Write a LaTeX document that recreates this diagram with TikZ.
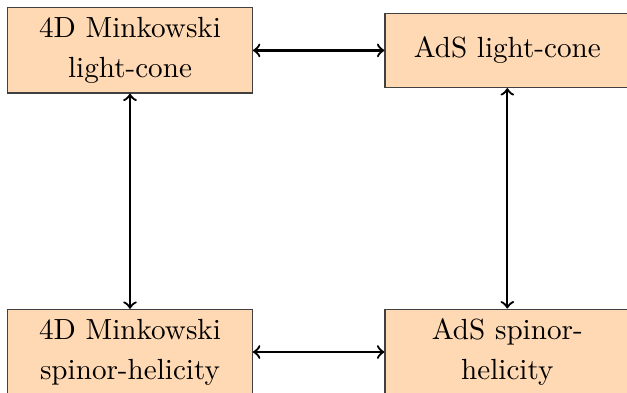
\documentclass[tikz,border=0pt]{standalone}
\usepackage{tikz}
\definecolor{peach}{RGB}{255,217,179}
\tikzset{
  box/.style={draw=black!75, fill=peach, text width=79pt, align=center,
    inner xsep=3.33pt, inner ysep=3.33pt, minimum height=26pt,
    font=\fontsize{10.2}{14}\selectfont},
  link/.style={thick, <->}
}
\begin{document}
\begin{tikzpicture}[x=0.35pt,y=-0.35pt]
\useasboundingbox (0,0) rectangle (627,392);
\node[box] (tl) at (130,50.4) {4D Minkowski light-cone};
\node[box] (tr) at (507.3,50.4) {AdS light-cone};
\node[box] (bl) at (130,352) {4D Minkowski spinor-helicity};
\node[box] (br) at (507.3,352) {AdS spinor-helicity};
\draw[link] (tl) -- (tr);
\draw[link] (bl) -- (br);
\draw[link] (tl) -- (bl);
\draw[link] (tr) -- (br);
\end{tikzpicture}
\end{document}
